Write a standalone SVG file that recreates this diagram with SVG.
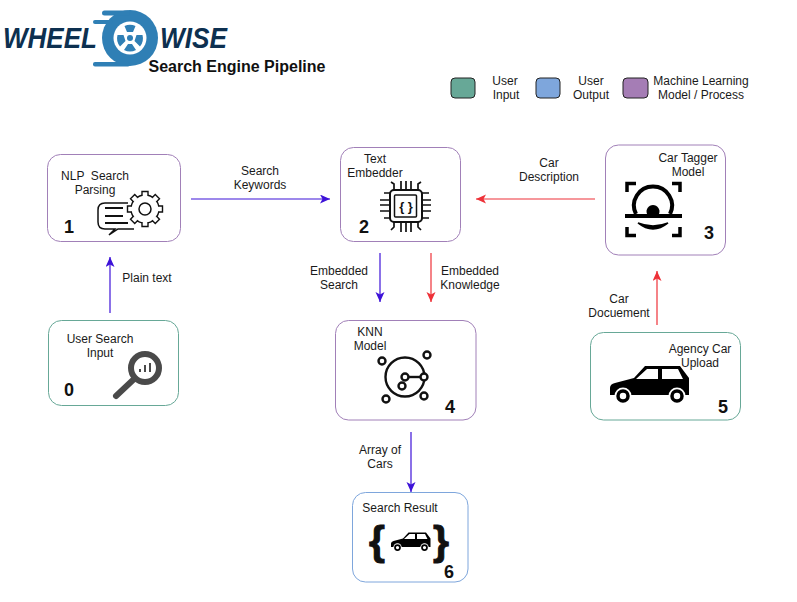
<svg xmlns="http://www.w3.org/2000/svg" width="797" height="602" viewBox="0 0 797 602">
<style>
text{font-family:"Liberation Sans",Arial,sans-serif;font-size:12px;fill:#1a1a1a;text-anchor:middle}
.n{font-size:18px;font-weight:700;fill:#111}
.box{fill:#fff;stroke-width:1}
.ml{stroke:#a180b8}.in{stroke:#67a897}.out{stroke:#7ea6dc}
.leg{stroke:#222;stroke-width:1}
.logo{font-size:29px;font-weight:700;font-style:italic;fill:#0d3050;text-anchor:start}
.b{stroke:#3d12d8;fill:none;stroke-width:1.2}
.r{stroke:#ee3138;fill:none;stroke-width:1.2}
.brace{font-size:41px;font-weight:700;fill:#111;stroke:#111;stroke-width:1}
</style>
<defs>
<marker id="ab" markerWidth="11" markerHeight="10" refX="10" refY="4.500" orient="auto" markerUnits="userSpaceOnUse"><path d="M0 0L10 4.500L0 9L2.500 4.500Z" fill="#3d12d8"/></marker>
<marker id="ar" markerWidth="11" markerHeight="10" refX="10" refY="4.500" orient="auto" markerUnits="userSpaceOnUse"><path d="M0 0L10 4.500L0 9L2.500 4.500Z" fill="#ee3138"/></marker>
<g id="car"><path d="M0 23Q0 19 5 18L24 13L35 1H70L79 13V30H6L0 30Z" fill="#000"/><path d="M26 14L37 4H48V14ZM52 4H68L73 14H52Z" fill="#fff"/><circle cx="13" cy="31" r="8.500" fill="#fff"/><circle cx="67" cy="31" r="8.500" fill="#fff"/><circle cx="13" cy="31" r="5" fill="#fff" stroke="#000" stroke-width="3.500"/><circle cx="67" cy="31" r="5" fill="#fff" stroke="#000" stroke-width="3.500"/></g>
<path id="tooth" d="M-3 -13V-17.500H3V-13" fill="#fff" stroke="#111" stroke-width="1.400"/>
</defs>
<rect width="797" height="602" fill="#fff"/>
<g id="logo">
<circle cx="130" cy="38" r="28" fill="#2f7fb5"/>
<rect x="102" y="10.500" width="28" height="5" rx="2.500" fill="#2f7fb5"/>
<rect x="93" y="20" width="20" height="4" rx="2" fill="#2f7fb5"/>
<rect x="93" y="62" width="37" height="4.500" rx="2" fill="#2f7fb5"/>
<circle cx="130" cy="38" r="16.500" fill="#fff"/>
<circle cx="130" cy="38" r="3" fill="#2f7fb5"/>
<path d="M124.500 26A13 13 0 0 1 135.500 26L133 32H127ZM117.500 35L123.500 35L125.500 41L120 46.500A13 13 0 0 1 117.500 35ZM142.500 35L136.500 35L134.500 41L140 46.500A13 13 0 0 0 142.500 35ZM124 50L128 44H132L136 50A13 13 0 0 1 124 50Z" fill="#2f7fb5"/>
<text class="logo" x="3" y="48" textLength="94" lengthAdjust="spacingAndGlyphs">WHEEL</text>
<text class="logo" x="160" y="48" textLength="67" lengthAdjust="spacingAndGlyphs">WISE</text>
<text x="237" y="72" style="font-size:16px;font-weight:700;fill:#111">Search Engine Pipeline</text>
</g>
<g id="legend">
<rect class="leg" x="451" y="78" width="24" height="20" rx="4" fill="#67a897"/>
<text x="505" y="85">User</text><text x="506" y="99">Input</text>
<rect class="leg" x="536" y="78" width="24" height="20" rx="4" fill="#7ea6dc"/>
<text x="591" y="85">User</text><text x="591" y="99">Output</text>
<rect class="leg" x="623" y="78" width="25" height="20" rx="4" fill="#a57db5"/>
<text x="701" y="85">Machine Learning</text><text x="701" y="99">Model / Process</text>
</g>
<g id="connectors">
<path class="b" d="M110 313V257" marker-end="url(#ab)"/>
<path class="b" d="M191 199H330" marker-end="url(#ab)"/>
<path class="r" d="M595 199H476" marker-end="url(#ar)"/>
<path class="b" d="M380 253V302" marker-end="url(#ab)"/>
<path class="r" d="M431 253V302" marker-end="url(#ar)"/>
<path class="r" d="M657 325V271" marker-end="url(#ar)"/>
<path class="b" d="M411 432V492" marker-end="url(#ab)"/>
<text x="260" y="175">Search</text><text x="260" y="189">Keywords</text>
<text x="147" y="282">Plain text</text>
<text x="549" y="167">Car</text><text x="549" y="181">Description</text>
<text x="339" y="275">Embedded</text><text x="339" y="289">Search</text>
<text x="470" y="275">Embedded</text><text x="470" y="289">Knowledge</text>
<text x="619" y="303">Car</text><text x="619" y="317">Docuement</text>
<text x="380" y="454">Array of</text><text x="380" y="468">Cars</text>
</g>
<g id="node-0">
<rect class="box in" x="48.500" y="320.500" width="130" height="85" rx="13"/>
<text x="100" y="343">User Search</text><text x="100" y="357">Input</text>
<text class="n" x="69" y="396">0</text>
<circle cx="145" cy="368" r="14" fill="none" stroke="#4a4a4a" stroke-width="6"/>
<path d="M133 380L116 396" stroke="#4a4a4a" stroke-width="6" stroke-linecap="round"/>
<path d="M140 372V369M145 372V365M150 372V363" stroke="#4a4a4a" stroke-width="2"/>
</g>
<g id="node-1">
<rect class="box ml" x="47.500" y="154.500" width="133" height="87" rx="13"/>
<text x="95" y="180" xml:space="preserve">NLP  Search</text><text x="95" y="194">Parsing</text>
<text class="n" x="69" y="233">1</text>
<path d="M128 203H105Q98 203 98 210V222Q98 229 105 229H115L109 235L118 229H134" fill="none" stroke="#111" stroke-width="1.500"/>
<path d="M105 208H123M105 216H123M105 223H128" stroke="#111" stroke-width="2"/>
<g transform="translate(145 209)">
<circle r="14" fill="#fff" stroke="#111" stroke-width="1.400"/>
<use href="#tooth"/><use href="#tooth" transform="rotate(45)"/><use href="#tooth" transform="rotate(90)"/><use href="#tooth" transform="rotate(135)"/><use href="#tooth" transform="rotate(180)"/><use href="#tooth" transform="rotate(225)"/><use href="#tooth" transform="rotate(270)"/><use href="#tooth" transform="rotate(315)"/>
<circle r="6" fill="none" stroke="#111" stroke-width="1.500"/>
</g>
</g>
<g id="node-2">
<rect class="box ml" x="340.500" y="147.500" width="120" height="94" rx="13"/>
<text x="375" y="163">Text</text><text x="375" y="177">Embedder</text>
<text class="n" x="364" y="233">2</text>
<rect x="390" y="190" width="32" height="32" rx="4" fill="none" stroke="#111" stroke-width="2"/>
<rect x="394.500" y="195" width="22" height="22" rx="1" fill="none" stroke="#111" stroke-width="1.500"/>
<text x="406" y="211" style="font-size:13px;font-weight:700;fill:#111">{ }</text>
<path d="M394 190V184L391 182M401 190V181M406 190V181M411 190V181M418 190V184L421 182M394 222V227L391 230M401 222V232M406 222V232M411 222V232M418 222V227L421 230M390 193H384M390 200H380M390 205H380M390 211H380M390 218H384M422 193H429M422 200H431M422 205H431M422 211H431M422 218H429" fill="none" stroke="#111" stroke-width="1.700"/>
</g>
<g id="node-3">
<rect class="box ml" x="605.500" y="145" width="120" height="110" rx="13"/>
<text x="688" y="162">Car Tagger</text><text x="688" y="176">Model</text>
<text class="n" x="709" y="239">3</text>
<path d="M627 192V183.500H636M672 183.500H680V192M627 227V235.500H636M672 235.500H680V227" fill="none" stroke="#000" stroke-width="3.500"/>
<path d="M625 216H682" stroke="#000" stroke-width="4"/>
<path d="M636 214A19 19 0 1 1 670 214" fill="none" stroke="#000" stroke-width="4"/>
<path d="M638 223Q653 235 668 223Q653 229 638 223Z" fill="#000" stroke="#000" stroke-width="1.500"/>
<path d="M647 214A6.500 6.500 0 1 1 659 214Z" fill="#000"/>
</g>
<g id="node-4">
<rect class="box ml" x="335.500" y="320.500" width="140.500" height="99.500" rx="13"/>
<text x="370" y="336">KNN</text><text x="370" y="350">Model</text>
<text class="n" x="450" y="413">4</text>
<g fill="#fff" stroke="#111" stroke-width="2.400">
<circle cx="405" cy="377" r="19.500"/>
<path d="M405 377H424"/>
<circle cx="405" cy="377" r="3.500"/><circle cx="424" cy="377" r="3.500"/><circle cx="402" cy="386" r="3.500"/>
<circle cx="382" cy="361" r="3.500"/><circle cx="427" cy="355" r="3.500"/><circle cx="386" cy="399" r="3.500"/><circle cx="424" cy="396" r="3.500"/>
</g>
</g>
<g id="node-5">
<rect class="box in" x="590.500" y="332.500" width="150" height="87.500" rx="13"/>
<text x="700" y="353">Agency Car</text><text x="700" y="367">Upload</text>
<text class="n" x="723" y="413">5</text>
<use href="#car" x="610" y="365"/>
</g>
<g id="node-6">
<rect class="box out" x="352.500" y="492.500" width="115.500" height="89.500" rx="13"/>
<text x="400" y="512">Search Result</text>
<text class="n" x="449" y="578">6</text>
<use href="#car" transform="translate(391 532) scale(.5 .5)"/>
<text class="brace" x="377" y="555">{</text>
<text class="brace" x="441" y="555">}</text>
</g>
</svg>
